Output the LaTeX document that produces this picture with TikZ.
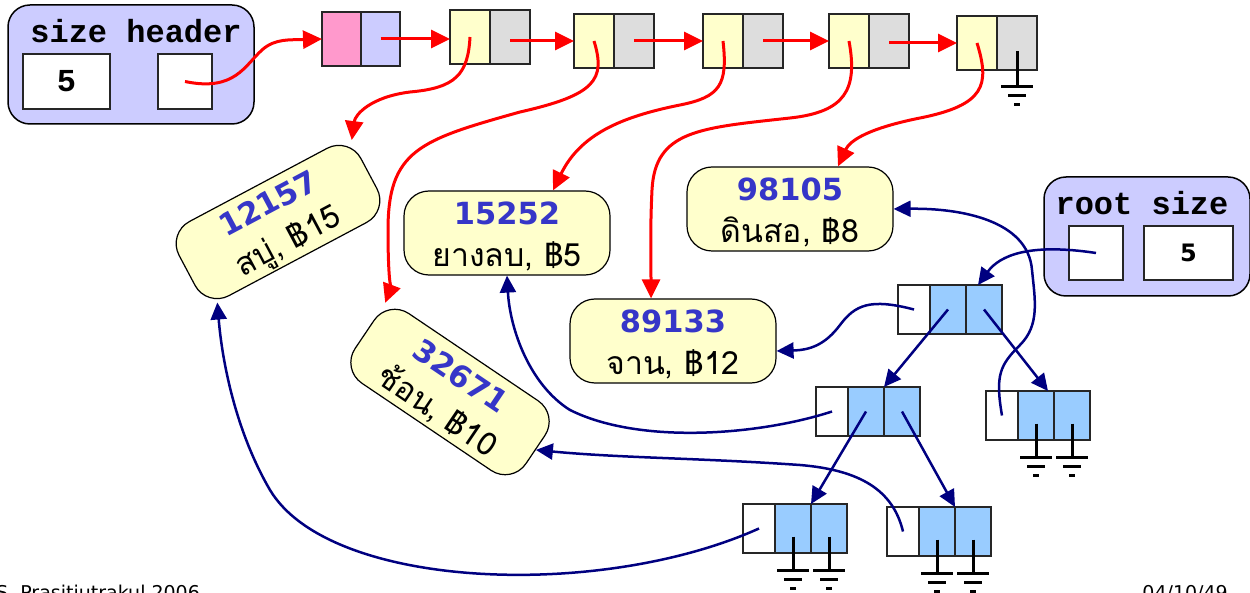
\documentclass[tikz,border=0pt]{standalone}
\usepackage{fontspec}
\setmainfont{DejaVu Sans}
\setmonofont{Liberation Mono}
\newfontfamily\thaifont[Script=Thai]{Loma}
\usetikzlibrary{arrows.meta,positioning,calc}
\definecolor{ylw}{HTML}{FFFFCC}
\definecolor{gry}{HTML}{DDDDDD}
\definecolor{pnk}{HTML}{FF99CC}
\definecolor{lav}{HTML}{CCCCFF}
\definecolor{lblu}{HTML}{99CCFF}
\definecolor{navy}{HTML}{000080}
\definecolor{keyblue}{HTML}{3636C8}
\newcommand{\keytxt}[1]{{\rule{0pt}{30pt}\color{keyblue}\bfseries\fontsize{30.5}{42}\selectfont #1}}
\newcommand{\nametxt}[1]{{\thaifont\fontsize{32}{42}\selectfont #1}}

\begin{document}
\begin{tikzpicture}[x=1pt,y=-1pt,
  panel/.style={draw=black, line width=1.5pt, fill=lav, rounded corners=22pt, inner sep=0pt},
  wbox/.style={draw=black!85, line width=1.5pt, fill=white, inner sep=0pt},
  lcell/.style={draw=black!85, line width=1.4pt, minimum width=40pt, minimum height=54pt, inner sep=0pt, outer sep=0pt},
  tcell/.style={draw=black!85, line width=1.4pt, minimum width=36pt, minimum height=49pt, inner sep=0pt, outer sep=0pt, fill=lblu},
  item/.style={draw=black, line width=1.2pt, fill=ylw, rounded corners=25pt, minimum width=206pt, minimum height=84pt,
    align=center, inner sep=0pt, font=\fontsize{29}{42}\selectfont},
  redarr/.style={red, line width=3pt, -{Triangle[length=19pt,width=18pt]}},
  bluarr/.style={navy, line width=2.5pt, -{Triangle[length=17pt,width=16pt]}},
  gnd/.style={line width=3pt, black},
  hdrtxt/.style={font=\ttfamily\bfseries\fontsize{32}{32}\selectfont}
]
\useasboundingbox (0,0) rectangle (1250,593);
% header of the linked list
\node[panel, minimum width=246pt, minimum height=119pt] (hdr) at (131,64.5) {};
\node[hdrtxt] (hdrlbl) at (136,31) {size header};
\node[wbox, hdrtxt, minimum width=87pt, minimum height=55pt] (hdrsize) at (66.5,81.5) {5};
\node[wbox, minimum width=54pt, minimum height=55pt] (hdrptr) at (185,81.5) {};
% list head and list cells
\node[lcell, fill=pnk, minimum width=39pt, anchor=north west] (lh0) at (322,12) {};
\node[lcell, fill=lav, minimum width=39pt, right=0pt of lh0] (lh1) {};
\foreach \i/\x/\y in {1/450/10, 2/574/14, 3/703/14, 4/829/14, 5/957/16} {
  \node[lcell, fill=ylw, anchor=north west] (val\i) at (\x,\y) {};
  \node[lcell, fill=gry, right=0pt of val\i] (nxt\i) {};
}
% data items
\node[item, rotate=28] (d12157) at (278,222) {\keytxt{12157}\\\nametxt{สบู่, ฿15}};
\node[item] (d15252) at (507,233) {\keytxt{15252}\\\nametxt{ยางลบ, ฿5}};
\node[item] (d89133) at (673,341) {\keytxt{89133}\\\nametxt{จาน, ฿12}};
\node[item] (d98105) at (790,209) {\keytxt{98105}\\\nametxt{ดินสอ, ฿8}};
\node[item, rotate=-34] (d32671) at (450,392) {\keytxt{32671}\\\nametxt{ช้อน, ฿10}};
% root of the tree
\node[panel, minimum width=206pt, minimum height=119pt] (rbox) at (1147,236.5) {};
\node[hdrtxt] (rlbl) at (1142,203) {root size};
\node[wbox, minimum width=54pt, minimum height=54pt] (rptr) at (1096,253) {};
\node[wbox, minimum width=89pt, minimum height=54pt, font=\bfseries\fontsize{24}{24}\selectfont] (rsize) at (1188.5,253) {5};
% tree nodes
\foreach \n/\x/\y in {rt/898/285, lc/816/387, rc/986/391, ll/743/504, lr/887/507} {
  \node[tcell, fill=white, minimum width=32pt, anchor=north west] (\n0) at (\x,\y) {};
  \node[tcell, right=0pt of \n0] (\n1) {};
  \node[tcell, right=0pt of \n1] (\n2) {};
}
% null links
\foreach \c in {nxt5,rc1,rc2,ll1,ll2,lr1,lr2} {
  \draw[gnd] ([yshift=-8pt]\c.center) -- ([yshift=-17pt]\c.south) coordinate (g);
  \draw[gnd] ([xshift=-16pt]g) -- ([xshift=16pt]g);
  \draw[gnd] ([xshift=-9pt,yshift=-9pt]g) -- ([xshift=9pt,yshift=-9pt]g);
  \draw[gnd] ([xshift=-3pt,yshift=-18pt]g) -- ([xshift=3pt,yshift=-18pt]g);
}
% list links
\draw[redarr] (hdrptr.center) .. controls (235,92) and (245,65) .. (262,50) .. controls (275,38) and (292,40) .. (lh0.west);
\draw[redarr] (lh1.center) -- (lh1.center -| val1.west);
\foreach \i/\j in {1/2,2/3,3/4,4/5}
  \draw[redarr] (nxt\i.center |- val\j.west) -- (val\j.west);
\draw[redarr] (val1.center) .. controls (468,75) and (455,88) .. (410,92) .. controls (370,97) and (355,115) .. (d12157.20);
\draw[redarr] (val2.center) .. controls (606,80) and (595,95) .. (520,112) .. controls (420,140) and (388,150) .. (388,230) .. controls (388,270) and (390,290) .. (d32671.160);
\draw[redarr] (val3.center) .. controls (728,85) and (720,97) .. (680,105) .. controls (620,117) and (580,135) .. ([xshift=46pt]d15252.north);
\draw[redarr] (val4.center) .. controls (858,90) and (845,112) .. (790,118) .. controls (700,128) and (655,130) .. (652,190) .. controls (650,230) and (651,260) .. ([xshift=-22pt]d89133.north);
\draw[redarr] (val5.center) .. controls (990,85) and (985,105) .. (920,118) .. controls (870,128) and (850,140) .. ([xshift=48pt]d98105.north);
% tree links
\draw[bluarr] (rptr.center) .. controls (1030,243) and (1000,255) .. ([xshift=-6pt]rt2.north);
\draw[bluarr] (rt0.center) .. controls (870,298) and (855,305) .. (840,325) .. controls (825,345) and (810,350) .. ([yshift=-10pt]d89133.east);
\draw[bluarr] (rt1.center) -- (lc1.north east);
\draw[bluarr] (rt2.center) -- ([xshift=-6pt]rc1.north east);
\draw[bluarr] (rc0.center) .. controls (995,375) and (1000,365) .. (1020,345) .. controls (1040,325) and (1035,300) .. (1032,270) .. controls (1028,220) and (960,208) .. (d98105.east);
\draw[bluarr] (lc0.center) .. controls (760,435) and (640,445) .. (570,410) .. controls (530,385) and (510,330) .. (d15252.south);
\draw[bluarr] (lc1.center) -- (ll1.north east);
\draw[bluarr] (lc2.center) -- (lr1.north east);
\draw[bluarr] (ll0.center) .. controls (600,600) and (330,590) .. (270,490) .. controls (235,430) and (222,360) .. (d12157.205);
\draw[bluarr] (lr0.center) .. controls (893,490) and (860,470) .. (800,465) .. controls (700,458) and (620,458) .. (d32671.east);
% footer
\node[anchor=north west, inner sep=0pt, font=\fontsize{19}{19}\selectfont] (credit) at (-4,585) {S. Prasitjutrakul 2006};
\node[anchor=north east, inner sep=0pt, font=\fontsize{19}{19}\selectfont] (date) at (1228,585) {04/10/49};
\end{tikzpicture}
\end{document}
